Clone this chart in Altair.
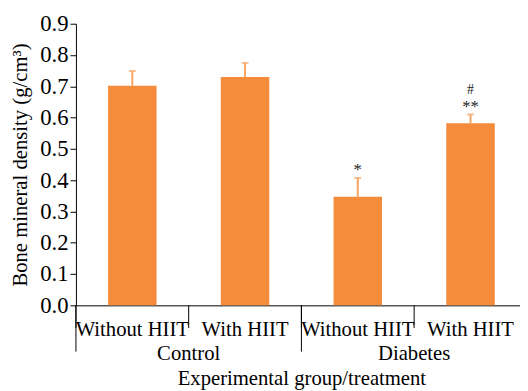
import altair as alt
import pandas as pd

groups = ["Control", "Control", "Diabetes", "Diabetes"]
treatments = ["Without HIIT", "With HIIT", "Without HIIT", "With HIIT"]
means = [0.702, 0.730, 0.347, 0.582]
errors = [0.047, 0.045, 0.060, 0.028]
stars = ["", "", "*", "**"]
hashes = ["", "", "", "#"]
y_ticks = [0.0, 0.1, 0.2, 0.3, 0.4, 0.5, 0.6, 0.7, 0.8, 0.9]

keys = [f"{g}|{t}" for g, t in zip(groups, treatments)]
df = pd.DataFrame({
    "key": keys,
    "group": groups,
    "treatment": treatments,
    "mean": means,
    "top": [m + e for m, e in zip(means, errors)],
    "star": stars,
    "hash": hashes,
    "first": [i == 0 or groups[i] != groups[i - 1] for i in range(len(groups))],
})

FONT = "Liberation Serif"
BAR = "#F58C3C"
ERR = "#F7A463"
W, H = 451, 286

xscale = alt.Scale(domain=keys, range=[0, 458], paddingInner=0, paddingOuter=0)
yscale = alt.Scale(domain=[0, 0.9], nice=False)

x_axis = alt.Axis(
    title="Experimental group/treatment",
    labelExpr="split(datum.label, '|')[1]",
    labelAngle=0, ticks=False, labelPadding=14, labelFontSize=21,
    labelFont=FONT, labelColor="black", titleFont=FONT, titleFontSize=21,
    titleFontWeight="normal", titleColor="black", titlePadding=28,
    domainColor="black", domainWidth=1, grid=False, labelOverlap=False,
    labelLimit=200,
)
y_axis = alt.Axis(
    title="Bone mineral density (g/cm³)", values=y_ticks, format=".1f",
    labelFont=FONT, labelFontSize=23, labelColor="black", tickColor="black",
    tickSize=6, labelPadding=2, domainColor="black", titleFont=FONT,
    titleFontSize=21, titleFontWeight="normal", titleColor="black",
    titlePadding=9, grid=False, labelOverlap=False, labelFlush=False,
)

X = alt.X("key:N", scale=xscale, axis=x_axis, sort=keys)
base = alt.Chart(df)

bars = base.mark_bar(color=BAR, width={"band": 0.43}).encode(
    x=X, y=alt.Y("mean:Q", scale=yscale, axis=y_axis),
)
err = base.mark_rule(color=ERR, strokeWidth=2).encode(
    x=X, y=alt.Y("mean:Q", scale=yscale, axis=y_axis), y2="top:Q"
)
cap = base.mark_tick(color=ERR, thickness=2, size=7, orient="horizontal").encode(
    x=X, y=alt.Y("top:Q", scale=yscale, axis=y_axis)
)
star_t = base.mark_text(font=FONT, fontSize=17, baseline="alphabetic", dy=-3, color="#222").encode(
    x=X, y=alt.Y("top:Q", scale=yscale, axis=y_axis), text="star:N"
)
hash_t = base.mark_text(font=FONT, fontSize=14, baseline="alphabetic", dy=-21, color="#222").encode(
    x=X, y=alt.Y("top:Q", scale=yscale, axis=y_axis), text="hash:N"
)
inner = base.mark_rule(color="black", strokeWidth=1).encode(
    x=alt.X("key:N", scale=xscale, axis=x_axis, sort=keys, bandPosition=0),
    y=alt.value(H), y2=alt.value(H + 23),
)
outer = base.transform_filter("datum.first").mark_rule(color="black", strokeWidth=1).encode(
    x=alt.X("key:N", scale=xscale, axis=x_axis, sort=keys, bandPosition=0),
    y=alt.value(H), y2=alt.value(H + 47),
)
glabels = base.transform_filter("datum.first").mark_text(
    font=FONT, fontSize=21, baseline="alphabetic", color="black"
).encode(
    x=alt.X("key:N", scale=xscale, axis=x_axis, sort=keys, bandPosition=1),
    y=alt.value(H + 56), text="group:N",
)

chart = alt.layer(bars, err, cap, star_t, hash_t, inner, outer, glabels).properties(
    width=W, height=H,
    autosize=alt.AutoSizeParams(type="none"),
    padding={"left": 69, "top": 13, "right": 0, "bottom": 83},
).configure_view(stroke=None)

chart.save("out.html", embed_options={"renderer": "svg", "actions": False})
